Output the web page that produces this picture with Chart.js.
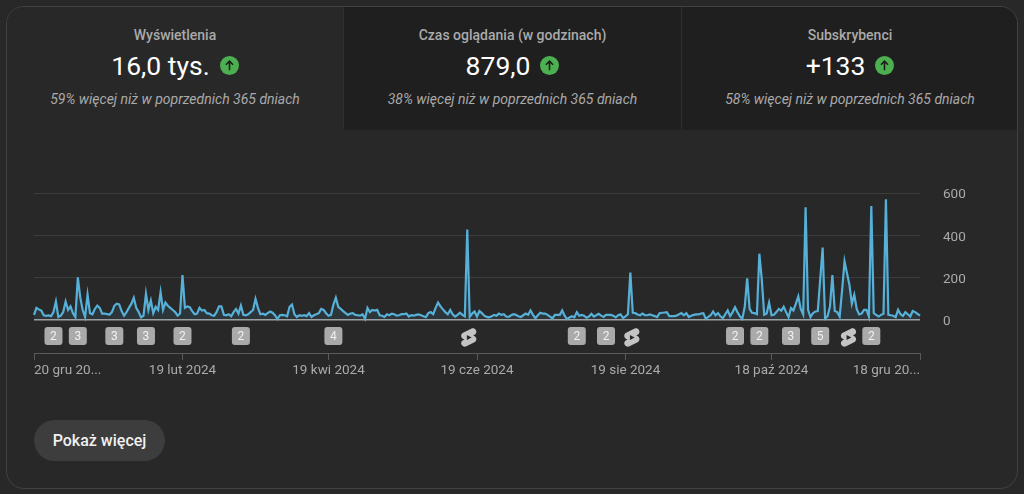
<!DOCTYPE html>
<html lang="pl">
<head>
<meta charset="utf-8">
<title>Wyświetlenia</title>
<script src="https://cdn.jsdelivr.net/npm/chart.js@4/dist/chart.umd.min.js"></script>
<style>
    html, body { margin: 0; width: 1024px; height: 494px; overflow: hidden; background: #282828; font-family: Roboto, sans-serif; }
    .card { position: absolute; left: 6px; top: 6px; width: 1010px; height: 481px; border: 1px solid #424242; border-radius: 18px; overflow: hidden; }
    .tile { position: absolute; top: 0; height: 123px; text-align: center; background: #1f1f1f; }
    .tile.active { background: #282828; }
    .tile + .tile { border-left: 1px solid #2e2e2e; }
    .tile .name { position: absolute; left: 0; right: 0; top: 20px; font-size: 14px; line-height: 17px; font-weight: 500; color: #aaa; }
    .tile .num { position: absolute; left: 0; right: 0; top: 41px; height: 34px; display: flex; justify-content: center; align-items: center; gap: 10px; font-size: 26.5px; color: #fff; }
    .tile .num svg { width: 19px; height: 19px; }
    .tile .note { position: absolute; left: 0; right: 0; top: 84px; font-size: 14px; line-height: 17px; font-style: italic; color: #aaa; }
    #chart { position: absolute; left: 0; top: 180px; }
    .more { position: absolute; left: 34px; top: 420px; width: 131px; height: 41px; line-height: 41px; text-align: center; border-radius: 21px; background: #3d3d3d; color: #f1f1f1; font-size: 16px; font-weight: 500; }
</style>
</head>
<body>
<div class="card">
    <div class="tile active" style="left:0;width:336px">
        <div class="name">Wyświetlenia</div>
        <div class="num">16,0 tys. <svg viewBox="0 0 24 24"><circle cx="12" cy="12" r="12" fill="#4caf50"/><path d="M12 18V7M7.5 11 12 6.5l4.5 4.5" fill="none" stroke="#1c1c1c" stroke-width="2"/></svg></div>
        <div class="note">59% więcej niż w poprzednich 365 dniach</div>
    </div>
    <div class="tile" style="left:336px;width:337px">
        <div class="name">Czas oglądania (w godzinach)</div>
        <div class="num">879,0 <svg viewBox="0 0 24 24"><circle cx="12" cy="12" r="12" fill="#4caf50"/><path d="M12 18V7M7.5 11 12 6.5l4.5 4.5" fill="none" stroke="#1c1c1c" stroke-width="2"/></svg></div>
        <div class="note">38% więcej niż w poprzednich 365 dniach</div>
    </div>
    <div class="tile" style="left:674px;width:336px">
        <div class="name">Subskrybenci</div>
        <div class="num">+133 <svg viewBox="0 0 24 24"><circle cx="12" cy="12" r="12" fill="#4caf50"/><path d="M12 18V7M7.5 11 12 6.5l4.5 4.5" fill="none" stroke="#1c1c1c" stroke-width="2"/></svg></div>
        <div class="note">58% więcej niż w poprzednich 365 dniach</div>
    </div>
</div>
<canvas id="chart" width="1024" height="200"></canvas>
<div class="more">Pokaż więcej</div>

<script>
// Daily views, 20 gru 2023 - 18 gru 2024
const views = [
    22,55,48,42,20,17,19,16,35,85,
    12,18,35,85,45,62,30,12,200,105,
    45,12,118,30,25,50,66,55,28,28,
    26,22,35,65,75,72,40,18,35,55,
    75,103,55,35,10,18,122,45,90,30,
    60,45,130,45,80,65,55,45,35,18,
    28,211,55,62,58,40,25,28,55,42,
    45,30,28,20,18,35,62,62,22,20,
    25,15,35,50,28,66,22,20,25,35,
    45,98,55,25,28,22,30,38,32,20,
    2,20,22,20,15,60,71,25,12,20,
    17,20,16,30,12,20,25,30,50,45,
    30,18,22,70,103,60,50,40,30,22,
    28,30,22,20,18,25,3,55,35,45,
    42,46,20,18,12,25,20,28,25,18,
    20,25,25,28,14,20,18,22,24,20,
    15,11,30,35,25,55,80,62,48,35,
    25,45,25,14,22,32,22,15,427,12,
    28,38,14,40,30,18,12,10,15,22,
    18,28,22,25,14,12,20,25,22,15,
    12,20,28,22,43,22,6,20,32,28,
    28,22,14,5,22,22,22,43,18,2,
    10,15,10,35,18,22,18,8,14,27,
    14,20,27,18,12,22,22,22,18,10,
    20,24,7,15,25,222,32,30,24,20,
    28,20,20,24,20,16,11,30,32,33,
    35,16,16,16,18,25,30,20,30,12,
    18,22,24,24,28,30,3,12,20,38,
    20,30,15,6,25,43,16,35,58,35,
    15,3,60,195,50,32,30,25,312,190,
    22,28,80,20,22,35,50,42,60,35,
    11,54,43,75,110,50,24,532,46,11,
    30,38,40,190,341,5,15,60,211,40,
    35,14,140,276,220,165,75,117,50,24,
    28,46,46,14,538,30,22,14,22,27,
    570,22,20,18,11,46,25,17,35,25,
    14,40,35,27,18
];
const days = views.map((v, i) => i);

const xTickDays = [0, 61, 121, 182, 243, 303, 364];
const xTickLabels = ['20 gru 20...', '19 lut 2024', '19 kwi 2024', '19 cze 2024', '19 sie 2024', '18 paź 2024', '18 gru 20...'];
const yTicks = [0, 200, 400, 600];

// Upload markers under the line
const badgeDays = [8, 18, 33, 46, 61, 85, 123, 223, 235, 288, 298, 311, 323, 344];
const badgeCounts = ['2', '3', '3', '3', '2', '2', '4', '2', '2', '2', '2', '3', '5', '2'];
const shortsDays = [178, 245, 334];

const shortsIcon = new Path2D('M10 14.65v-5.3L15 12l-5 2.65zm7.77-4.33c-.77-.32-1.2-.5-1.2-.5L18 9.06c1.84-.96 2.53-3.23 1.56-5.06s-3.24-2.53-5.07-1.56L6 6.94c-1.29.68-2.07 2.04-2 3.49.07 1.42.93 2.67 2.22 3.25.03.01 1.2.5 1.2.5L6 14.93c-1.83.97-2.53 3.24-1.56 5.07.97 1.83 3.24 2.53 5.07 1.56l8.5-4.5c1.29-.68 2.06-2.04 1.99-3.49-.07-1.42-.94-2.68-2.23-3.25z');

const markers = {
    id: 'markers',
    afterDraw(chart) {
        const ctx = chart.ctx;
        const x = chart.scales.x;
        const midY = 156;
        ctx.save();
        badgeDays.forEach((day, i) => {
            const px = x.getPixelForValue(day);
            ctx.fillStyle = '#aaaaaa';
            ctx.beginPath();
            ctx.roundRect(px - 9, midY - 9, 18, 18, 3);
            ctx.fill();
            ctx.fillStyle = '#f1f1f1';
            ctx.font = '12px Roboto';
            ctx.textAlign = 'center';
            ctx.textBaseline = 'middle';
            ctx.fillText(badgeCounts[i], px, midY + 0.5);
        });
        shortsDays.forEach(day => {
            const px = x.getPixelForValue(day);
            ctx.save();
            ctx.translate(px + 1.5, midY + 1.5);
            ctx.scale(0.95, 0.92);
            ctx.translate(-12, -12);
            ctx.fillStyle = '#c4c4c4';
            ctx.fill(shortsIcon);
            ctx.restore();
        });
        ctx.restore();
    }
};

new Chart(document.getElementById('chart'), {
    type: 'line',
    data: {
        labels: days,
        datasets: [{
            data: views,
            borderColor: '#56b0d8',
            backgroundColor: 'rgba(86, 176, 216, 0.1)',
            borderWidth: 2.2,
            borderJoinStyle: 'miter',
            pointRadius: 0,
            tension: 0,
            fill: { value: 0 },
            clip: false
        }]
    },
    options: {
        responsive: false,
        animation: false,
        layout: { padding: { left: 34, top: 13, right: 0, bottom: 0 } },
        plugins: {
            legend: { display: false },
            tooltip: { enabled: false }
        },
        scales: {
            x: {
                offset: false,
                border: { color: '#5a5a5a', width: 1 },
                grid: { drawOnChartArea: false, drawTicks: true, tickLength: 7, tickColor: '#5a5a5a' },
                afterBuildTicks: axis => { axis.ticks = xTickDays.map(value => ({ value })); },
                afterFit: axis => { axis.height = 27; },
                ticks: {
                    autoSkip: false,
                    maxRotation: 0,
                    align: 'inner',
                    padding: 3,
                    color: '#aaaaaa',
                    font: { family: 'Roboto', size: 13.5 },
                    callback: (value, index) => xTickLabels[index]
                }
            },
            y: {
                position: 'right',
                min: -159,
                max: 600,
                border: { display: false },
                // tick padding also pads the plot vertically, so the label gap comes from a hidden tick
                grid: {
                    drawTicks: true,
                    tickLength: 23,
                    tickColor: 'transparent',
                    color: ctx => ctx.tick && ctx.tick.value === 0 ? '#a0a0a0' : '#3c3c3c',
                    lineWidth: ctx => ctx.tick && ctx.tick.value === 0 ? 1.5 : 1
                },
                afterBuildTicks: axis => { axis.ticks = yTicks.map(value => ({ value })); },
                afterFit: axis => { axis.width = 104; },
                ticks: {
                    padding: 0,
                    labelOffset: 2,
                    color: '#aaaaaa',
                    font: { family: 'Roboto', size: 13.5 }
                }
            }
        }
    },
    plugins: [markers]
});
</script>
</body>
</html>
